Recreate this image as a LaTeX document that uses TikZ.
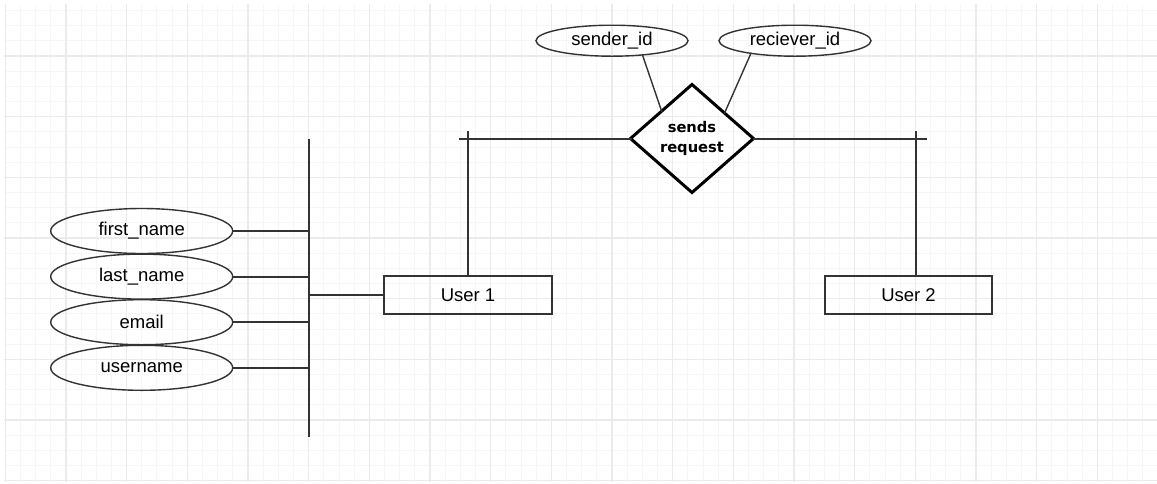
\documentclass[tikz,border=0pt]{standalone}
\usepackage{fontspec}
\setmainfont{Liberation Sans}
\newfontfamily\relfont{DejaVu Sans}
\usetikzlibrary{positioning, shapes.geometric}
\definecolor{linec}{HTML}{333333}
\definecolor{gridmajor}{HTML}{EBEBEB}
\definecolor{gridminor}{HTML}{F6F6F6}

\begin{document}
\begin{tikzpicture}[x=1pt, y=-1pt, line cap=rect,
    attr/.style = {draw=linec, line width=1.4pt, ellipse, inner sep=0pt, outer sep=0pt,
                   font=\fontsize{18.5}{22}\selectfont},
    entity/.style = {draw=linec, line width=2pt, rectangle, inner sep=0pt, outer sep=0pt,
                     minimum width=168pt, minimum height=38pt, font=\fontsize{18.5}{22}\selectfont},
    rel/.style = {draw=black, line width=3pt, diamond, inner sep=0pt, outer sep=0pt,
                  minimum width=123pt, minimum height=108pt, align=center,
                  font=\relfont\bfseries\fontsize{14.7}{20}\selectfont},
    link/.style = {draw=linec, line width=1.8pt},
    bar/.style = {draw=linec, line width=2pt}]
    \useasboundingbox (0,0) rectangle (1157,483);
    % background grid
    \foreach \i in {0,...,75}
        \draw[gridminor, line width=1pt] (5.33+15.1667*\i,5) -- (5.33+15.1667*\i,481);
    \foreach \j in {1,...,32}
        \draw[gridminor, line width=1pt] (5,-4.67+15.1667*\j) -- (1157,-4.67+15.1667*\j);
    \foreach \i in {0,...,18}
        \draw[gridmajor, line width=1.2pt] (5.33+60.667*\i,5) -- (5.33+60.667*\i,481);
    \foreach \j in {1,...,8}
        \draw[gridmajor, line width=1.2pt] (5,-4.67+60.667*\j) -- (1157,-4.67+60.667*\j);

    % attributes of the user
    \node[attr, minimum width=182pt, minimum height=45pt] (fn) at (141.7,231) {first\_name};
    \node[attr, minimum width=182pt, minimum height=45pt] (ln) [below=0.6pt of fn] {last\_name};
    \node[attr, minimum width=182pt, minimum height=45pt] (em) [below=0.6pt of ln] {email};
    \node[attr, minimum width=182pt, minimum height=45pt] (un) [below=0.6pt of em] {username};
    \coordinate (bartop) at (309,138.5);
    \coordinate (barbot) at (309,436.5);

    % entities and relation
    \node[entity] (u1) at (468,295) {User 1};
    \node[entity, minimum width=167pt] (u2) [right=273pt of u1] {User 2};
    \node[rel] (sr) at (692,138.5) {sends\\request};
    \node[attr, minimum width=152pt, minimum height=31pt] (sid) at (612,40.7) {sender\_id};
    \node[attr, minimum width=152pt, minimum height=31pt] (rid) [right=31pt of sid] {reciever\_id};
    \coordinate (u1top) at (468,131);
    \coordinate (u1end) at (460,139);
    \coordinate (u2top) at (916,131);
    \coordinate (u2end) at (925.7,139);

    \draw[bar, line cap=butt] (bartop) -- (barbot);
    \draw[link] (fn) -- (fn -| bartop);
    \draw[link] (ln) -- (ln -| bartop);
    \draw[link] (em) -- (em -| bartop);
    \draw[link] (un) -- (un -| bartop);
    \draw[link] (u1.west) -- (u1.west -| bartop);
    \draw[bar, line cap=butt] (u1.north -| u1top) -- (u1top);
    \draw[link, line width=2pt] (sr.west |- u1end) -- (u1end);
    \draw[bar, line cap=butt] (u2.north -| u2top) -- (u2top);
    \draw[link, line width=2pt] (sr.east |- u2end) -- (u2end);
    \draw[link, line width=1.4pt] (sid.-25) -- (sr.138);
    \draw[link, line width=1.4pt] (rid.196) -- (sr.38);
\end{tikzpicture}
\end{document}
